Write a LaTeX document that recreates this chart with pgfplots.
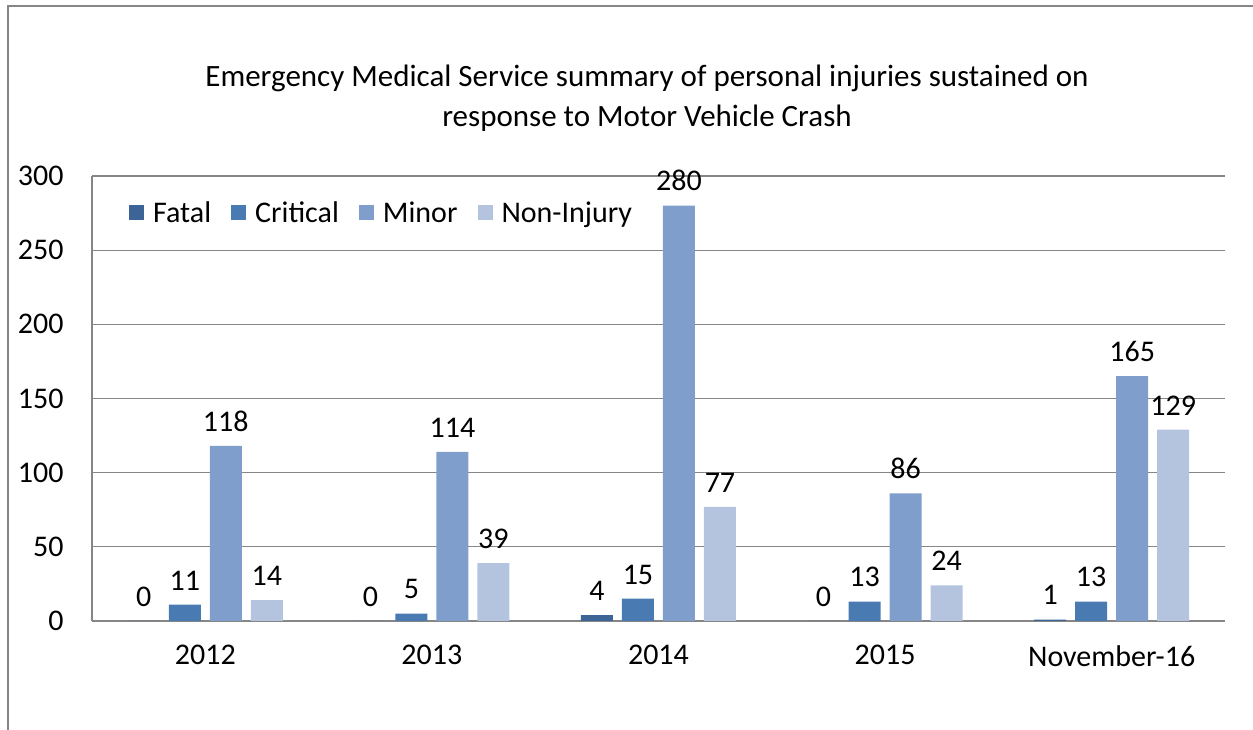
\documentclass[border=0pt]{standalone}
\usepackage{pgfplots}
\pgfplotsset{compat=1.18}
\usepackage{fontspec}
\setmainfont{Carlito}
\definecolor{cFatal}{RGB}{60,100,150}
\definecolor{cCrit}{RGB}{74,122,178}
\definecolor{cMinor}{RGB}{127,158,203}
\definecolor{cNon}{RGB}{180,196,223}
\definecolor{gridgray}{RGB}{134,134,134}
\begin{document}
\begin{tikzpicture}
\begin{axis}[
  at={(0pt,0pt)}, anchor=south west,
  scale only axis, width=1133pt, height=445pt,
  ybar=9pt, bar width=32pt,
  xmin=-0.5, xmax=4.5, ymin=0, ymax=300,
  xtick=data, xticklabels={2012,2013,2014,2015,November-16},
  ytick={0,50,...,300},
  ymajorgrids, grid style={gridgray, line width=1.3pt},
  axis line style={gridgray, line width=1.3pt},
  axis x line*=bottom, axis y line*=left,
  major tick length=0pt,
  tick style={draw=none},
  font=\fontsize{30}{36}\selectfont,
  ticklabel style={font=\fontsize{30}{36}\selectfont},
  /pgf/number format/assume math mode=true,
  yticklabel style={xshift=-25pt},
  xticklabel style={yshift=-21pt},
  nodes near coords,
  nodes near coords style={font=\fontsize{30}{36}\selectfont, /pgf/number format/assume math mode=true, yshift=11pt},
  legend columns=4,
  legend style={draw=none, fill=none, at={(rel axis cs:0.03,0.917)}, anchor=west,
    font=\fontsize{30}{36}\selectfont,
    /tikz/every odd column/.style={column sep=7pt},
    /tikz/every even column/.style={column sep=18pt}},
  legend image code/.code={\fill[#1] (0pt,-7.5pt) rectangle (15pt,7.5pt);},
]
\addplot[fill=cFatal, draw=none] coordinates {(0,0) (1,0) (2,4) (3,0) (4,1)};
\addplot[fill=cCrit, draw=none] coordinates {(0,11) (1,5) (2,15) (3,13) (4,13)};
\addplot[fill=cMinor, draw=none] coordinates {(0,118) (1,114) (2,280) (3,86) (4,165)};
\addplot[fill=cNon, draw=none] coordinates {(0,14) (1,39) (2,77) (3,24) (4,129)};
\legend{Fatal,Critical,Minor,Non-Injury}
\end{axis}
\node[align=center, font=\fontsize{31}{40}\selectfont] at (555pt,523pt)
  {Emergency Medical Service summary of personal injuries sustained on\\response to Motor Vehicle Crash};
\draw[gridgray, line width=1.5pt] (-84pt,-130pt) -- (-84pt,615pt) -- (1200pt,615pt);
\pgfresetboundingbox
\path[use as bounding box] (-92pt,-109pt) rectangle (1161pt,621pt);
\end{tikzpicture}
\end{document}
